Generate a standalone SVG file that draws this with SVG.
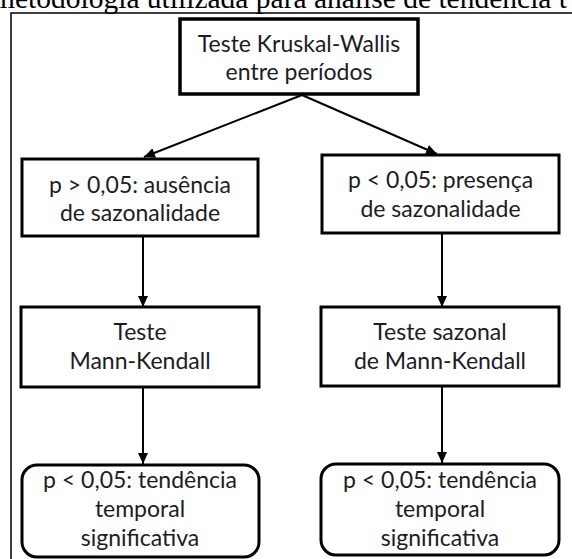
<svg xmlns="http://www.w3.org/2000/svg" width="572" height="559" viewBox="0 0 572 559">
<style>
.box{fill:#fff;stroke:#000;stroke-width:3}
.top{stroke-width:3.5}
.t{font-family:Lato,"Open Sans","Liberation Sans",sans-serif;font-size:23px;fill:#1c1c24;text-anchor:middle}
.con{stroke:#000;stroke-width:2;fill:none;marker-end:url(#ah)}
.cap{font-family:"Liberation Serif","Times New Roman",serif;font-size:29.5px;fill:#000}
</style>
<defs>
<marker id="ah" markerUnits="userSpaceOnUse" markerWidth="12" markerHeight="12" viewBox="0 0 12 12" refX="11" refY="6" orient="auto">
<path d="M0,1 L11,6 L0,11 Z" fill="#000"/>
</marker>
</defs>
<rect width="572" height="559" fill="#fff"/>
<text class="cap" x="-8" y="8">metodologia utilizada para análise de tendência t</text>
<rect x="11" y="13" width="600" height="600" fill="none" stroke="#000" stroke-width="1.5"/>
<g id="connectors">
<line class="con" x1="302" y1="95" x2="144" y2="157"/>
<line class="con" x1="302" y1="95" x2="437" y2="154"/>
<line class="con" x1="143" y1="236" x2="143" y2="307"/>
<line class="con" x1="442" y1="233" x2="442" y2="307"/>
<line class="con" x1="143" y1="387" x2="143" y2="464"/>
<line class="con" x1="442" y1="386" x2="442" y2="463"/>
</g>
<g id="kruskal">
<rect class="box top" x="180" y="19" width="238" height="75"/>
<text class="t" x="299" y="52">Teste Kruskal-Wallis</text>
<text class="t" x="299" y="80">entre períodos</text>
</g>
<g id="ausencia">
<rect class="box" x="22" y="159" width="236" height="77"/>
<text class="t" x="140" y="193">p &gt; 0,05: ausência</text>
<text class="t" x="140" y="221">de sazonalidade</text>
</g>
<g id="presenca">
<rect class="box" x="322" y="155" width="237" height="78"/>
<text class="t" x="440.5" y="188">p &lt; 0,05: presença</text>
<text class="t" x="440.5" y="217">de sazonalidade</text>
</g>
<g id="mk">
<rect class="box" x="21" y="307" width="238" height="80"/>
<text class="t" x="140" y="340">Teste</text>
<text class="t" x="140" y="369">Mann-Kendall</text>
</g>
<g id="smk">
<rect class="box" x="321" y="307" width="238" height="79"/>
<text class="t" x="440" y="340">Teste sazonal</text>
<text class="t" x="440" y="369">de Mann-Kendall</text>
</g>
<g id="tend1">
<rect class="box" x="22" y="465" width="237" height="92" rx="15"/>
<text class="t" x="140" y="488">p &lt; 0,05: tendência</text>
<text class="t" x="140" y="517">temporal</text>
<text class="t" x="140" y="546">significativa</text>
</g>
<g id="tend2">
<rect class="box" x="321" y="464" width="238" height="91" rx="15"/>
<text class="t" x="440" y="488">p &lt; 0,05: tendência</text>
<text class="t" x="440" y="517">temporal</text>
<text class="t" x="440" y="546">significativa</text>
</g>
</svg>
